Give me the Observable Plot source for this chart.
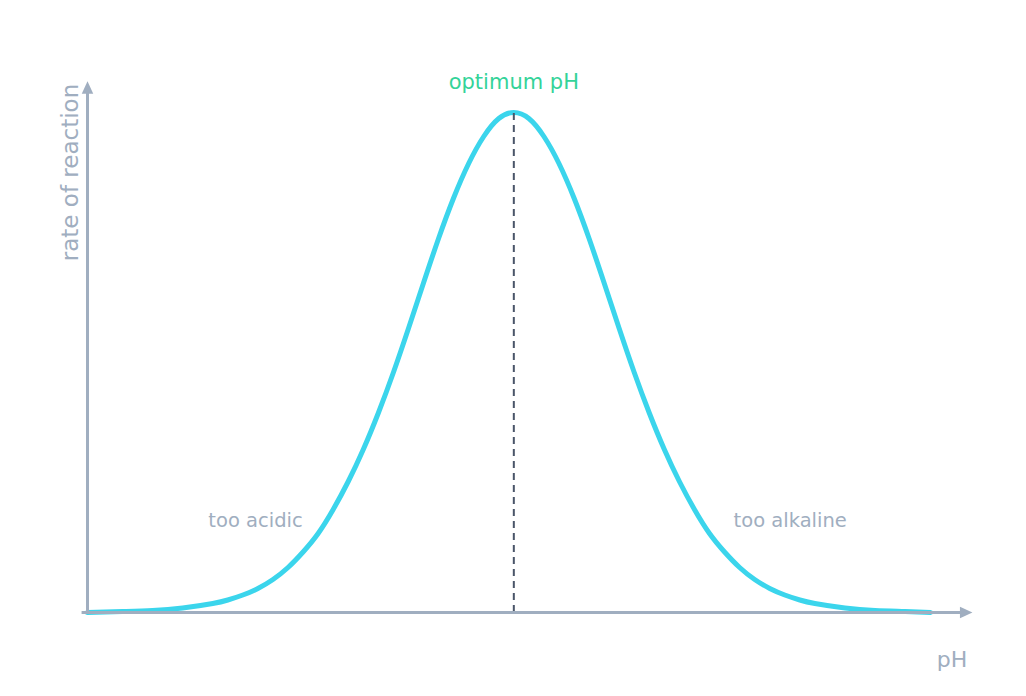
<!DOCTYPE html>
<html>
<head>
<meta charset="utf-8">
<script src="https://cdn.jsdelivr.net/npm/d3@7"></script>
<script src="https://cdn.jsdelivr.net/npm/@observablehq/plot@0.6"></script>
<style>
  html, body { margin: 0; padding: 0; background: #ffffff; }
  svg { display: block; }
</style>
</head>
<body>
<div id="chart"></div>
<script>
// pH values (x) and relative rate of reaction (y)
const ph = [0.00, 0.58, 1.08, 1.58, 2.08, 2.33, 2.58, 2.83, 3.08, 3.33, 3.58, 3.83, 4.08, 4.33, 4.58, 4.83, 5.08, 5.33, 5.58, 5.83, 6.08, 6.33, 6.58, 6.83, 7.08,
            7.33, 7.58, 7.83, 8.08, 8.33, 8.58, 8.83, 9.08, 9.33, 9.58, 9.83, 10.08, 10.33, 10.58, 10.83, 11.08, 11.33, 11.58, 11.83, 12.08, 12.58, 13.08, 13.58, 14.00];
const rate = [0.000, 0.002, 0.004, 0.009, 0.018, 0.025, 0.035, 0.048, 0.066, 0.090, 0.121, 0.158, 0.206, 0.262, 0.326, 0.399, 0.480, 0.568, 0.659, 0.748, 0.829, 0.898, 0.952, 0.988, 1.000,
              0.988, 0.952, 0.898, 0.829, 0.748, 0.659, 0.568, 0.480, 0.399, 0.326, 0.262, 0.206, 0.158, 0.121, 0.090, 0.066, 0.048, 0.035, 0.025, 0.018, 0.009, 0.004, 0.002, 0.000];
const optimumPH = 7.08;
const peakRate = 1.0;
const labels = { optimum: "optimum pH", acidic: "too acidic", alkaline: "too alkaline", xTitle: "pH", yTitle: "rate of reaction" };

const data = ph.map((p, i) => ({ ph: p, rate: rate[i] }));

const axisColor = "#a0aec0";
const curveColor = "#3bd5ec";
const font = "DejaVu Sans, sans-serif";

// filled arrowhead symbol pointing up (rotated for the x axis)
const arrowHead = {
  draw(context, size) {
    const r = Math.sqrt(size / Math.PI);
    context.moveTo(0, -r);
    context.lineTo(0.92 * r, r);
    context.lineTo(-0.92 * r, r);
    context.closePath();
  }
};

const chart = Plot.plot({
  width: 1026,
  height: 696,
  marginLeft: 87,
  marginRight: 96,
  marginTop: 112,
  marginBottom: 84,
  style: { background: "#ffffff", fontFamily: font },
  x: { domain: [0, 14], axis: null },
  y: { domain: [0, 1], axis: null },
  marks: [
    Plot.line(data, { x: "ph", y: "rate", stroke: curveColor, strokeWidth: 5, curve: "natural" }),
    Plot.ruleX([optimumPH], { y1: 0, y2: peakRate, stroke: "#4a5568", strokeWidth: 2, strokeDasharray: "7,5" }),
    Plot.ruleY([0], { x1: -0.09, x2: 14.5, stroke: axisColor, strokeWidth: 3 }),
    Plot.ruleX([0], { y1: -0.003, y2: 1.04, stroke: axisColor, strokeWidth: 3 }),
    Plot.dot([0], { x: 14.593, y: 0, symbol: arrowHead, r: 6.25, fill: axisColor, stroke: "none", rotate: 90 }),
    Plot.dot([0], { x: 0, y: 1.05, symbol: arrowHead, r: 6.25, fill: axisColor, stroke: "none" }),
    Plot.text([labels.optimum], { x: optimumPH, y: 1.047, text: d => d, fill: "#34d399", fontSize: 21, lineAnchor: "bottom", textAnchor: "middle" }),
    Plot.text([labels.acidic], { x: 2.79, y: 0.171, text: d => d, fill: axisColor, fontSize: 19.5, lineAnchor: "bottom", textAnchor: "middle" }),
    Plot.text([labels.alkaline], { x: 11.67, y: 0.171, text: d => d, fill: axisColor, fontSize: 19.5, lineAnchor: "bottom", textAnchor: "middle" }),
    Plot.text([labels.xTitle], { x: 14.61, y: -0.108, text: d => d, fill: axisColor, fontSize: 22, lineAnchor: "bottom", textAnchor: "end" }),
    Plot.text([labels.yTitle], { x: -0.166, y: 0.88, text: d => d, fill: axisColor, fontSize: 23, lineAnchor: "bottom", textAnchor: "middle", rotate: -90 })
  ]
});

document.getElementById("chart").appendChild(chart);
</script>
</body>
</html>
